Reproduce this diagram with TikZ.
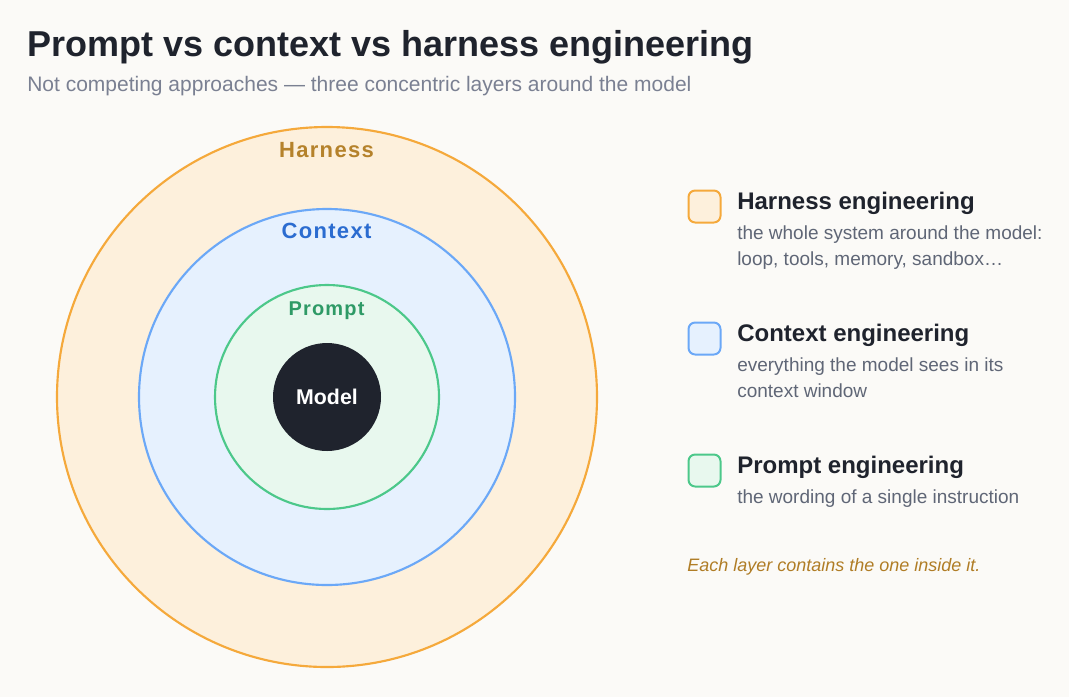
\documentclass[tikz,border=0pt]{standalone}
\usepackage{fontspec}
\setmainfont{Liberation Sans}
\newfontfamily\spacedfont[LetterSpace=6]{Liberation Sans}
\definecolor{bgcol}{HTML}{FBFAF7}
\definecolor{inkcol}{HTML}{1F232D}
\definecolor{subcol}{HTML}{7A8092}
\definecolor{desccol}{HTML}{5F6676}
\definecolor{harnessline}{HTML}{F5A93B}
\definecolor{harnessfill}{HTML}{FDF0DC}
\definecolor{harnesstext}{HTML}{B5822B}
\definecolor{contextline}{HTML}{6BA8F7}
\definecolor{contextfill}{HTML}{E6F1FE}
\definecolor{contexttext}{HTML}{2B6CD0}
\definecolor{promptline}{HTML}{4CC88A}
\definecolor{promptfill}{HTML}{E8F8EE}
\definecolor{prompttext}{HTML}{2E9A66}
\definecolor{notecol}{HTML}{B07D26}
\begin{document}
\begin{tikzpicture}[x=0.75pt,y=-0.75pt,
        ring/.style={line width=1.6pt},
        ringlabel/.style={anchor=base,inner sep=0pt,
            font=\spacedfont\bfseries\fontsize{16.5}{20}\selectfont},
        keybox/.style={draw,line width=1.5pt,rounded corners=5pt,
            minimum size=24pt,inner sep=0pt,anchor=north west},
        keytitle/.style={anchor=base west,inner sep=0pt,text=inkcol,
            font=\bfseries\fontsize{18}{22}\selectfont},
        keytext/.style={anchor=base west,inner sep=0pt,text=desccol,align=left,
            font=\fontsize{14.25}{19.5}\selectfont}]

\fill[bgcol] (0,0) rectangle (1069,697);

\node[anchor=base west,inner sep=0pt,text=inkcol,
    font=\bfseries\fontsize{27}{32}\selectfont] (title) at (27,56)
    {Prompt vs context vs harness engineering};
\node[anchor=base west,inner sep=0pt,text=subcol,
    font=\fontsize{15.75}{19}\selectfont] (subtitle) at (27,91)
    {Not competing approaches — three concentric layers around the model};

% the three layers
\coordinate (centre) at (327,397);
\draw[ring, draw=harnessline, fill=harnessfill] (centre) circle (270);
\draw[ring, draw=contextline, fill=contextfill] (centre) circle (188);
\draw[ring, draw=promptline, fill=promptfill] (centre) circle (112);
\node[circle,fill=inkcol,minimum size=81pt,inner sep=0pt,text=white,
    font=\bfseries\fontsize{16}{19}\selectfont] (model) at (centre) {Model};

\node[ringlabel, text=harnesstext] (harness) at (326.5,157) {Harness};
\node[ringlabel, text=contexttext] (context) at (326.5,238) {Context};
\node[ringlabel, text=prompttext,
    font=\spacedfont\bfseries\fontsize{15}{18}\selectfont] (prompt) at (326.5,315) {Prompt};

% legend (multi-line texts sit on their last baseline)
\node[keybox, draw=harnessline, fill=harnessfill] (harnesskey) at (687.5,189.5) {};
\node[keytitle] (harnesstitle) at (737,209) {Harness engineering};
\node[keytext] (harnessdesc) at (737,265)
    {the whole system around the model:\\loop, tools, memory, sandbox…};

\node[keybox, draw=contextline, fill=contextfill] (contextkey) at (687.5,321.5) {};
\node[keytitle] (contexttitle) at (737,341) {Context engineering};
\node[keytext] (contextdesc) at (737,397)
    {everything the model sees in its\\context window};

\node[keybox, draw=promptline, fill=promptfill] (promptkey) at (687.5,453.5) {};
\node[keytitle] (prompttitle) at (737,473) {Prompt engineering};
\node[keytext] (promptdesc) at (737,503) {the wording of a single instruction};

\node[anchor=base west,inner sep=0pt,text=notecol,
    font=\itshape\fontsize{13.5}{16}\selectfont] (note) at (687,571)
    {Each layer contains the one inside it.};
\end{tikzpicture}
\end{document}
